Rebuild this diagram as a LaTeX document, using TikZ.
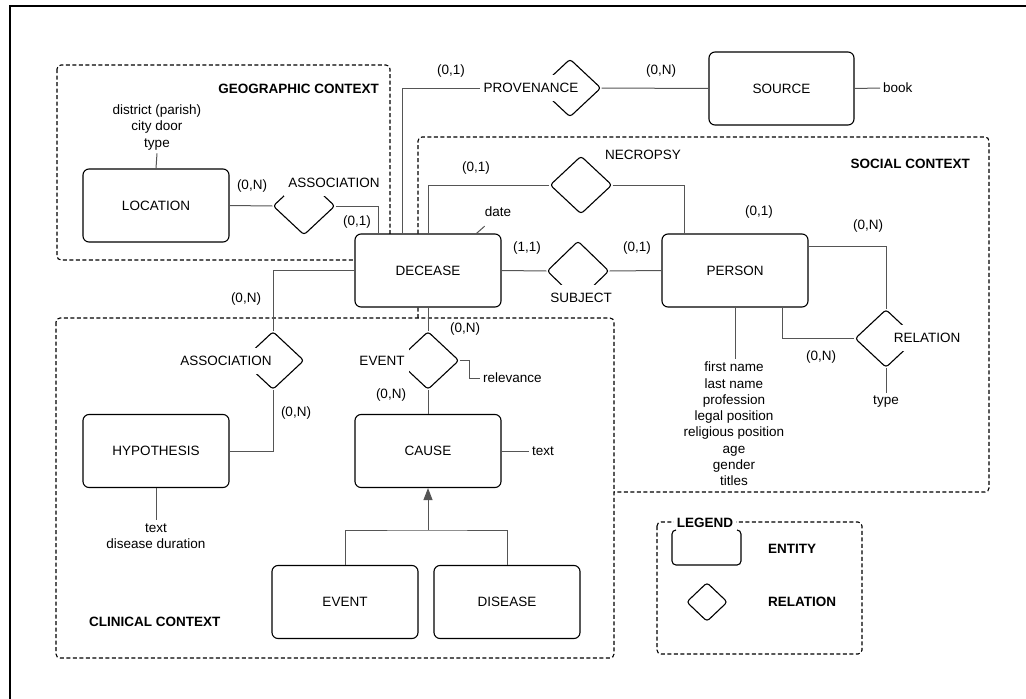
\documentclass[tikz,border=0pt]{standalone}
\usepackage{fontspec}
\setmainfont{Liberation Sans}
\usepackage{xcolor}
\usepackage{tikz}
\usetikzlibrary{shapes.geometric}
\usetikzlibrary{arrows.meta}

\definecolor{conngray}{RGB}{85,85,85}

\begin{document}
\begin{tikzpicture}[x=1pt, y=-1pt,
        font=\fontsize{13.5}{16.3}\selectfont,
        entity/.style={draw, rounded corners=6pt, fill=white, line width=1.1pt,
            minimum width=146pt, minimum height=73pt, inner sep=0pt},
        relation/.style={draw, diamond, rounded corners=3pt, fill=white, line width=1.1pt,
            minimum width=62pt, minimum height=58pt, inner sep=0pt},
        rellabel/.style={fill=white, inner xsep=4pt, inner ysep=8pt},
        card/.style={inner sep=1pt},
        attr/.style={align=center, inner sep=3pt},
        conn/.style={draw=conngray, line width=1pt},
        ctxbox/.style={dash pattern=on 4pt off 2.5pt, line width=1.1pt, rounded corners=4pt},
        ctxtitle/.style={font=\fontsize{13.5}{16.3}\selectfont\bfseries, inner sep=0pt}]
        \useasboundingbox (0,0) rectangle (1026,699);

        \draw[line width=2.2pt] (10,720) -- (10,6) -- (1040,6);

        \draw[ctxbox] (57,65) rectangle (390,260);
        \draw[ctxbox] (418,318) -- (418,137) -- (989,137) -- (989,492) -- (614,492);
        \draw[ctxbox] (56,318) rectangle (614,658);
        \draw[ctxbox] (657,522) rectangle (862,654);

        \node[ctxtitle, anchor=east] (geotitle) at (379,89) {GEOGRAPHIC CONTEXT};
        \node[ctxtitle, anchor=east] (soctitle) at (970,164) {SOCIAL CONTEXT};
        \node[ctxtitle, anchor=west] (clintitle) at (89,622) {CLINICAL CONTEXT};
        \node[ctxtitle, fill=white, inner xsep=3pt, inner ysep=1pt] (legtitle) at (705,523) {LEGEND};

        \node[entity] (location) at (156,205.5) {LOCATION};
        \node[entity] (decease) at (428,270.5) {DECEASE};
        \node[entity, minimum width=145pt] (source) at (781.5,88.5) {SOURCE};
        \node[entity] (person) at (735,270.5) {PERSON};
        \node[entity] (hypothesis) at (156,451) {HYPOTHESIS};
        \node[entity] (cause) at (428,451) {CAUSE};
        \node[entity] (eventent) at (345,602) {EVENT};
        \node[entity] (disease) at (507,602) {DISEASE};

        \node[relation] (geoassoc) at (304,206) {};
        \node[relation] (provenance) at (570,88) {};
        \node[relation] (necropsy) at (581,185) {};
        \node[relation, minimum height=60pt] (subject) at (578,271) {};
        \node[relation] (relates) at (886,338.5) {};
        \node[relation] (clinassoc) at (273,360.5) {};
        \node[relation] (eventrel) at (428,360.5) {};
        \node[relation, minimum width=41pt, minimum height=39pt] (legrel) at (707,602) {};

        \draw[conn] (location.east) -- (geoassoc.west);
        \draw[conn] (geoassoc.east) -| ([xshift=24pt]decease.north west);
        \draw[conn] ([xshift=48pt]decease.north west) |- (provenance.west);
        \draw[conn] (provenance.east) -- (source.west);
        \draw[conn] (decease.north) |- (necropsy.west);
        \draw[conn] (necropsy.east) -| ([xshift=23pt]person.north west);
        \draw[conn] (decease.east) -- (subject.west);
        \draw[conn] (subject.east) -- (person.west);
        \draw[conn] ([yshift=-13pt]person.north east) -| (relates.north);
        \draw[conn] ([xshift=121pt]person.south west) |- (relates.west);
        \draw[conn] (decease.west) -| (clinassoc.north);
        \draw[conn] (clinassoc.south) |- (hypothesis.east);
        \draw[conn] (decease.south) -- (eventrel.north);
        \draw[conn] (eventrel.south) -- (cause.north);

        \coordinate (isa) at (428,530);
        \draw[conn] (eventent.north) |- (isa) -| (disease.north);
        \draw[conn, -{Triangle[length=12pt, width=9pt]}] (isa) -- (cause.south);

        \node[attr] (locattr) at (157,127.5) {district (parish)\\city door\\type};
        \draw[conn] (locattr.south) -- (location.north);
        \node[attr, anchor=west] (book) at (880,88) {book};
        \draw[conn] (source.east) -- (book.west);
        \node[attr, inner sep=0pt] (date) at (498,212) {date};
        \draw[conn] ([xshift=122pt]decease.north west) -- ([yshift=-9pt]date.south west);
        \node[attr] (personattr) at (734,424) {first name\\last name\\profession\\legal position\\religious position\\age\\gender\\titles};
        \draw[conn] (person.south) -- (person.south |- personattr.north);
        \node[attr] (reltype) at (886,402) {type};
        \draw[conn] (relates.south) -- (reltype.north);
        \node[attr] (hypattr) at (156,536) {text\\disease duration};
        \draw[conn] (hypothesis.south) -- (hypattr.north);
        \node[attr, anchor=west] (relevance) at (480,378) {relevance};
        \draw[conn] (eventrel.east) -- ++(10,0) |- (relevance.west);
        \node[attr, anchor=west] (causeattr) at (529,451) {text};
        \draw[conn] (cause.east) -- (causeattr.west);

        \node[rellabel] (geoassoclbl) at (334,183) {ASSOCIATION};
        \node[rellabel] (provlbl) at (531,88) {PROVENANCE};
        \node[rellabel] (necrlbl) at (643,155) {NECROPSY};
        \node[rellabel] (subjlbl) at (581,298) {SUBJECT};
        \node[rellabel] (rellbl) at (927,338) {RELATION};
        \node[rellabel] (clinassoclbl) at (226,361) {ASSOCIATION};
        \node[rellabel] (eventlbl) at (382,361) {EVENT};

        \node[card] (cardlocgeo) at (252,186) {(0,N)};
        \node[card] (carddecgeo) at (357,222) {(0,1)};
        \node[card] (carddecprov) at (451,71) {(0,1)};
        \node[card] (cardsrcprov) at (661,71) {(0,N)};
        \node[card] (carddecnecr) at (476,168) {(0,1)};
        \node[card] (carddecsubj) at (527,248) {(1,1)};
        \node[card] (cardpersubj) at (637,248) {(0,1)};
        \node[card] (cardpernecr) at (759,212) {(0,1)};
        \node[card] (cardrelone) at (868,226) {(0,N)};
        \node[card] (cardreltwo) at (821,357) {(0,N)};
        \node[card] (carddecassoc) at (246,299) {(0,N)};
        \node[card] (cardhypassoc) at (296,413) {(0,N)};
        \node[card] (carddecevent) at (465,329) {(0,N)};
        \node[card] (cardcauseevent) at (391,395) {(0,N)};

        \draw[line width=1.1pt, rounded corners=4pt] (676,530) -- (672,530) -- (672,565) -- (741,565) -- (741,530) -- (737,530);
        \node[ctxtitle, anchor=west] (legent) at (768,549) {ENTITY};
        \node[ctxtitle, anchor=west] (legrellbl) at (768,602) {RELATION};
    \end{tikzpicture}
\end{document}
